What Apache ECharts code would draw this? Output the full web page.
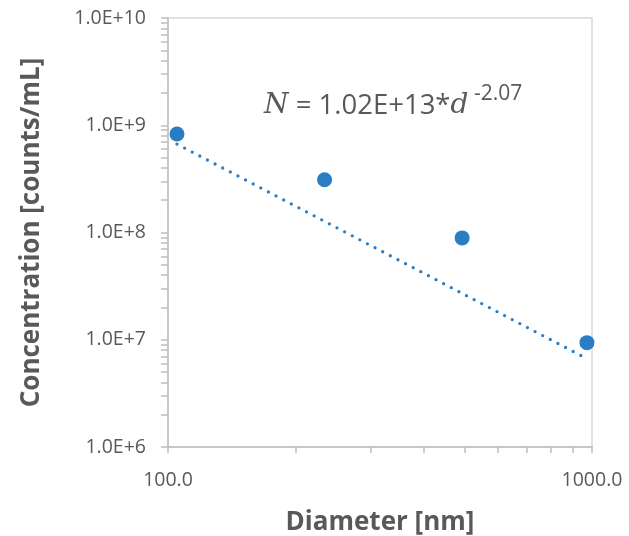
<!DOCTYPE html>
<html>
<head>
<meta charset="utf-8">
<script src="https://cdn.jsdelivr.net/npm/echarts@6/dist/echarts.min.js"></script>
<style>
  html, body { margin: 0; padding: 0; background: #fff; }
  #chart { width: 629px; height: 536px; }
</style>
</head>
<body>
<div id="chart"></div>
<script>
// Particle diameter [nm] and measured concentration [counts/mL]
const diameters = [105, 234, 494, 973];
const concentrations = [8.3e8, 3.1e8, 8.9e7, 9.4e6];

// Power-law trend  N = a * d^b
const trendCoef = 1.02e13;
const trendExp = -2.07;

// Axis ticks (log decades with 2..9 minor marks)
const xTickValues = [100, 200, 300, 400, 500, 600, 700, 800, 900, 1000];
const xLabelValues = [100, 1000];
const yLabelValues = [1e6, 1e7, 1e8, 1e9, 1e10];
const yTickValues = [];
yLabelValues.forEach(function (dec, i) {
  yTickValues.push(dec);
  if (i < yLabelValues.length - 1) {
    for (let k = 2; k <= 9; k++) yTickValues.push(dec * k);
  }
});

const dMin = Math.min.apply(null, diameters);
const dMax = Math.max.apply(null, diameters);
const trendData = [dMin, dMax].map(function (d) {
  return [d, trendCoef * Math.pow(d, trendExp)];
});

const textColor = '#595959';
const axisColor = '#BFBFBF';
const blue = '#2A7DC4';
const font = 'Open Sans';

const chart = echarts.init(document.getElementById('chart'), null, { renderer: 'canvas' });
chart.setOption({
  animation: false,
  backgroundColor: '#fff',
  grid: {
    left: 168, top: 18, width: 424, height: 429,
    outerBoundsMode: 'none', containLabel: false,
    show: true, borderColor: '#D9D9D9', borderWidth: 1.5, backgroundColor: 'transparent'
  },
  title: {
    left: 259, top: 79,
    text: '{n|N}{t| = 1.02E+13*}{d|d}{s| -2.07}',
    textStyle: {
      fontWeight: 'normal',
      rich: {
        n: { fontFamily: 'DejaVu Serif', fontStyle: 'italic', fontWeight: 'normal', fontSize: 28, color: textColor, verticalAlign: 'bottom', lineHeight: 36 },
        t: { fontFamily: font, fontWeight: 'normal', fontSize: 27.5, color: textColor, verticalAlign: 'bottom', lineHeight: 36 },
        d: { fontFamily: 'DejaVu Serif', fontStyle: 'italic', fontWeight: 'normal', fontSize: 28, color: textColor, verticalAlign: 'bottom', lineHeight: 36 },
        s: { fontFamily: font, fontWeight: 'normal', fontSize: 21, color: textColor, verticalAlign: 'top', lineHeight: 36 }
      }
    }
  },
  xAxis: {
    type: 'log', logBase: 10, min: 100, max: 1000,
    name: 'Diameter [nm]', nameLocation: 'middle', nameGap: 63,
    nameTextStyle: { fontFamily: font, fontWeight: 'bold', fontSize: 26, color: textColor },
    axisLine: { show: true, lineStyle: { color: axisColor, width: 1.5 } },
    axisTick: { show: true, length: 6, lineStyle: { color: axisColor, width: 1.5 }, customValues: xTickValues },
    axisLabel: {
      customValues: xLabelValues, margin: 23,
      fontFamily: font, fontSize: 19.5, color: textColor,
      formatter: function (v) { return Number(v).toFixed(1); }
    },
    splitLine: { show: false }, minorTick: { show: false }
  },
  yAxis: {
    type: 'log', logBase: 10, min: 1e6, max: 1e10,
    name: 'Concentration [counts/mL]', nameLocation: 'middle', nameGap: 123, nameRotate: 90,
    nameTextStyle: { fontFamily: font, fontWeight: 'bold', fontSize: 26, color: textColor },
    axisLine: { show: true, lineStyle: { color: axisColor, width: 1.5 } },
    axisTick: { show: true, length: 7, lineStyle: { color: axisColor, width: 1.5 }, customValues: yTickValues },
    axisLabel: {
      customValues: yLabelValues, margin: 22,
      fontFamily: font, fontSize: 19.5, color: textColor,
      formatter: function (v) { return Number(v).toExponential(1).toUpperCase(); }
    },
    splitLine: { show: false }, minorTick: { show: false }
  },
  series: [
    {
      type: 'line',
      data: trendData,
      showSymbol: false, symbol: 'none',
      lineStyle: { color: blue, width: 3.3, type: [0, 8.6], cap: 'round' },
      z: 2
    },
    {
      type: 'scatter',
      data: diameters.map(function (d, i) { return [d, concentrations[i]]; }),
      symbol: 'circle', symbolSize: 15,
      itemStyle: { color: blue, opacity: 1 },
      z: 3
    }
  ]
});
</script>
</body>
</html>
